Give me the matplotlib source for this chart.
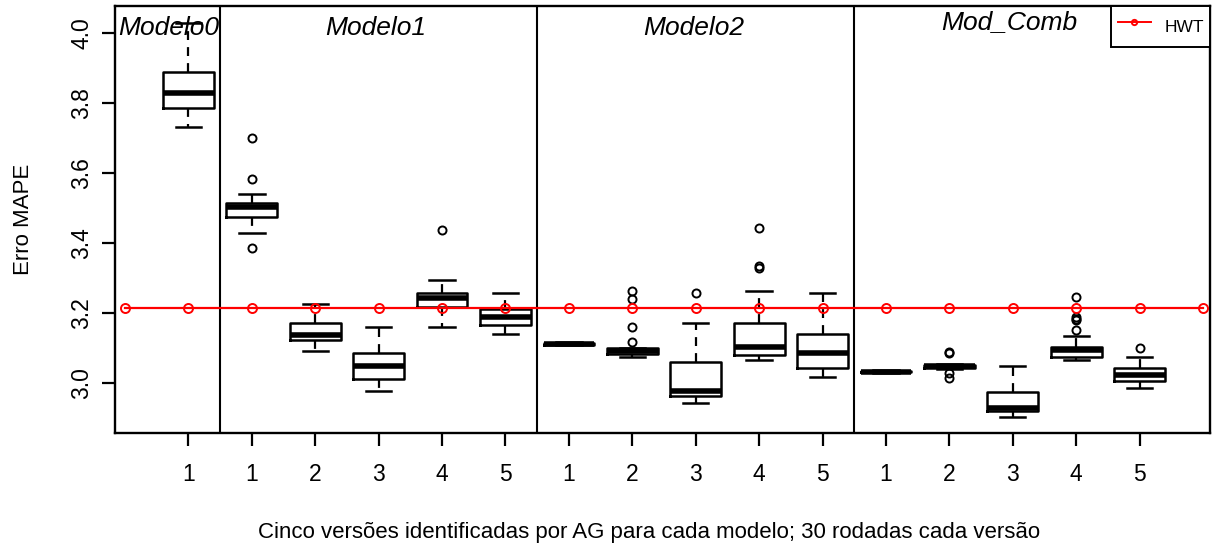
import matplotlib
matplotlib.use("Agg")
import matplotlib.pyplot as plt
import matplotlib.transforms as mtransforms
from matplotlib.lines import Line2D

plt.rcParams['font.family'] = ['Liberation Sans', 'DejaVu Sans']

# Model groups and the versions inside each one
group_names = ["Modelo0", "Modelo1", "Modelo2", "Mod_Comb"]
group_centers = [0.69, 3.95, 8.96, 13.95]
group_separators = [1.5, 6.5, 11.5]
tick_labels = ["1", "1", "2", "3", "4", "5", "1", "2", "3", "4", "5",
               "1", "2", "3", "4", "5"]

# Box statistics of the MAPE error (30 runs per version)
whisker_low = [3.733, 3.429, 3.091, 2.979, 3.162, 3.140, 3.108, 3.076,
               2.943, 3.066, 3.017, 3.029, 3.040, 2.905, 3.066, 2.986]
quart1 = [3.786, 3.476, 3.123, 3.011, 3.219, 3.166, 3.110, 3.085,
          2.964, 3.082, 3.043, 3.031, 3.043, 2.921, 3.076, 3.007]
median = [3.830, 3.503, 3.139, 3.048, 3.245, 3.188, 3.113, 3.092,
          2.979, 3.105, 3.087, 3.033, 3.048, 2.929, 3.095, 3.024]
quart3 = [3.890, 3.515, 3.173, 3.087, 3.258, 3.212, 3.116, 3.100,
          3.061, 3.172, 3.141, 3.035, 3.053, 2.975, 3.105, 3.044]
whisker_high = [4.030, 3.542, 3.227, 3.162, 3.296, 3.258, 3.118, 3.100,
                3.172, 3.264, 3.257, 3.037, 3.055, 3.050, 3.136, 3.076]
outliers = [[], [3.702, 3.584, 3.387], [], [], [3.438], [], [],
            [3.264, 3.241, 3.162, 3.118], [3.259], [3.445, 3.335, 3.330],
            [], [], [3.090, 3.087, 3.028, 3.014], [],
            [3.247, 3.189, 3.183, 3.181, 3.152], [3.100]]

# Reference model (HWT) error
hwt_value = 3.215
hwt_positions = list(range(0, 18))

W, H = 1213, 547
fig = plt.figure(figsize=(W / 100, H / 100), dpi=100)
left, right, top, bottom = 115, 1210, 6, 433.3
ax = fig.add_axes([left / W, 1 - bottom / H, (right - left) / W, (bottom - top) / H])

stats = []
for i in range(len(median)):
    stats.append(dict(whislo=whisker_low[i], q1=quart1[i], med=median[i],
                      q3=quart3[i], whishi=whisker_high[i], fliers=outliers[i]))

positions = list(range(1, len(median) + 1))
ax.bxp(stats, positions=positions, widths=0.8, capwidths=0.4,
       boxprops=dict(color='black', linewidth=1.8),
       medianprops=dict(color='black', linewidth=4.0, solid_capstyle='butt'),
       whiskerprops=dict(color='black', linewidth=1.6, linestyle=(0, (4, 3.2))),
       capprops=dict(color='black', linewidth=1.8),
       flierprops=dict(marker='o', markerfacecolor='none', markeredgecolor='black',
                       markersize=5.8, markeredgewidth=1.4, linestyle='none'))

ax.plot(hwt_positions, [hwt_value] * len(hwt_positions), color='red', linewidth=1.6,
        marker='o', markerfacecolor='none', markeredgecolor='red', markersize=6.5,
        markeredgewidth=1.4, zorder=4)

for xs in group_separators:
    ax.axvline(xs, color='black', linewidth=1.5)

ax.set_xlim(-0.158, 17.11)
ax.set_ylim(2.857, 4.078)

ax.set_xticks(positions)
ax.set_xticklabels(tick_labels)
ax.set_yticks([3.0, 3.2, 3.4, 3.6, 3.8, 4.0])
ax.set_yticklabels(["3.0", "3.2", "3.4", "3.6", "3.8", "4.0"], rotation=90, va='center')
ax.tick_params(axis='x', length=9.6, width=1.6, pad=12, labelsize=16.5)
ax.tick_params(axis='y', length=9.6, width=1.6, pad=6, labelsize=16.5)
for sp in ax.spines.values():
    sp.set_linewidth(1.7)

blend = mtransforms.blended_transform_factory(ax.transData, ax.transAxes)
title_y = [0.932, 0.932, 0.932, 0.945]
for name, cx, ty in zip(group_names, group_centers, title_y):
    ax.text(cx, ty, name, transform=blend, fontsize=19, style='italic',
            ha='center', va='baseline', zorder=5)

handle = Line2D([], [], color='red', linewidth=1.4, marker='o', markersize=3.8,
                markerfacecolor='none', markeredgecolor='red', markeredgewidth=1.4)
leg = ax.legend([handle], ["HWT"], loc='upper right', bbox_to_anchor=(1, 1),
                borderaxespad=0, fancybox=False, framealpha=1, edgecolor='black',
                fontsize=12.5, handlelength=1.9, handleheight=2.2,
                handletextpad=0.8, borderpad=0.35)
leg.get_frame().set_linewidth(1.4)

fig.text(649 / W, 1 - 532.6 / H,
         "Cinco versões identificadas por AG para cada modelo; 30 rodadas cada versão",
         ha='center', va='center', fontsize=16)
fig.text(24 / W, 1 - 219 / H, "Erro MAPE", rotation=90, ha='center', va='center',
         fontsize=16)

fig.savefig("out.png", dpi=100)
